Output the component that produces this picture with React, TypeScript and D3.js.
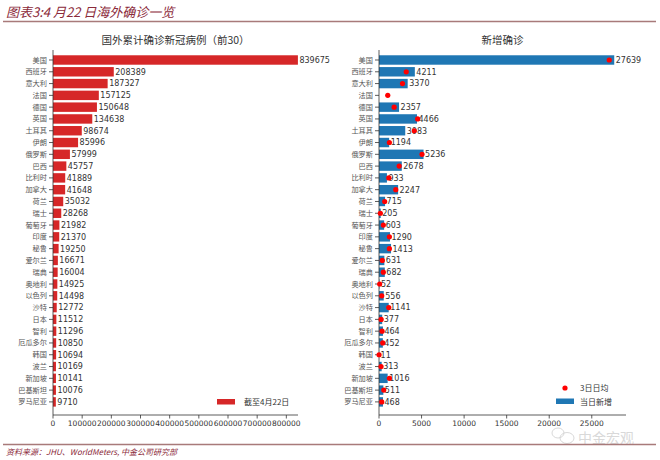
import React from 'react';
import * as d3 from 'd3';

// 国家（按累计确诊排序，前30）
const countries = [
  '美国', '西班牙', '意大利', '法国', '德国', '英国', '土耳其', '伊朗', '俄罗斯', '巴西',
  '比利时', '加拿大', '荷兰', '瑞士', '葡萄牙', '印度', '秘鲁', '爱尔兰', '瑞典', '奥地利',
  '以色列', '沙特', '日本', '智利', '厄瓜多尔', '韩国', '波兰', '新加坡', '巴基斯坦', '罗马尼亚'
];

// 累计确诊（截至4月22日）
const totalCases = [
  839675, 208389, 187327, 157125, 150648, 134638, 98674, 85996, 57999, 45757,
  41889, 41648, 35032, 28268, 21982, 21370, 19250, 16671, 16004, 14925,
  14498, 12772, 11512, 11296, 10850, 10694, 10169, 10141, 10076, 9710
];

// 当日新增（法国无数据）
const dailyNew: (number | null)[] = [
  27639, 4211, 3370, null, 2357, 4466, 3083, 1194, 5236, 2678,
  933, 2247, 715, 205, 603, 1290, 1413, 631, 682, 52,
  556, 1141, 377, 464, 452, 11, 313, 1016, 511, 468
];

// 3日日均（估读）
const avg3d = [
  27050, 3200, 2760, 1030, 1780, 4540, 4150, 1220, 5050, 2370,
  1150, 1970, 670, 160, 510, 1220, 1220, 390, 510, 80,
  320, 1150, 250, 360, 440, 10, 240, 1220, 560, 320
];

const CJK = '"Noto Sans CJK SC", sans-serif';
const NUM = '"DejaVu Sans", sans-serif';
const RED = '#d62728';
const BLUE = '#1f77b4';
const DARK = '#8b2a3a';

const App = () => {
  const y = d3.scaleBand<string>()
    .domain(countries)
    .range([54.1, 407.8])
    .paddingInner(0.2)
    .paddingOuter(0.1);

  const xL = d3.scaleLinear().domain([0, 840000]).range([53, 298]);
  const xR = d3.scaleLinear().domain([0, 29021]).range([379, 626]);

  const axisTop = 50;
  const axisBottom = 415;

  const panel = (
    x: d3.ScaleLinear<number, number>,
    values: (number | null)[],
    color: string,
    title: string,
    nTicks: number
  ) => {
    const x0 = x.range()[0];
    const x1 = x.range()[1];
    return (
      <g>
        <text x={(x0 + x1) / 2} y={44} textAnchor="middle" fontFamily={CJK} fontSize={10.5} fill="#333">
          {title}
        </text>
        {countries.map((c, i) => {
          const v = values[i];
          const yc = (y(c) as number) + y.bandwidth() / 2;
          return (
            <g key={c}>
              <line x1={x0 - 4} x2={x0} y1={yc} y2={yc} stroke="#333" strokeWidth={0.8} />
              <text x={x0 - 6} y={yc} dy="0.35em" textAnchor="end" fontFamily={CJK} fontSize={7.2} fill="#555">
                {c}
              </text>
              {v != null && (
                <>
                  <rect
                    x={x0}
                    y={y(c)}
                    width={x(v) - x0}
                    height={y.bandwidth()}
                    fill={color}
                  />
                  <text x={x(v) + 1.5} y={yc} dy="0.36em" fontFamily={NUM} fontSize={8} fill="#333">
                    {v}
                  </text>
                </>
              )}
            </g>
          );
        })}
        <line x1={x0} x2={x0} y1={axisTop} y2={axisBottom} stroke="#333" strokeWidth={0.8} />
        <line x1={x0} x2={x1} y1={axisBottom} y2={axisBottom} stroke="#333" strokeWidth={0.8} />
        {x.ticks(nTicks).map(t => (
          <g key={t}>
            <line x1={x(t)} x2={x(t)} y1={axisBottom} y2={axisBottom + 3.5} stroke="#333" strokeWidth={0.8} />
            <text x={x(t)} y={axisBottom + 11} textAnchor="middle" fontFamily={NUM} fontSize={7.5} fill="#333">
              {t}
            </text>
          </g>
        ))}
      </g>
    );
  };

  return (
    <svg width={660} height={460} style={{ position: 'absolute', left: 0, top: 0, background: '#fff' }}>
      {/* 标题 */}
      <text x={6} y={17} fontFamily={CJK} fontSize={13} fontStyle="italic" fill={DARK} style={{ whiteSpace: 'pre' }}>
        图表3:4 月22 日海外确诊一览
      </text>
      <line x1={3} x2={656} y1={21.5} y2={21.5} stroke="#a87a7a" strokeWidth={1.5} />

      {panel(xL, totalCases, RED, '国外累计确诊新冠病例（前30）', 10)}
      {panel(xR, dailyNew, BLUE, '新增确诊', 6)}

      {/* 3日日均 */}
      {countries.map((c, i) => (
        <circle
          key={c}
          cx={xR(avg3d[i])}
          cy={(y(c) as number) + y.bandwidth() / 2}
          r={2.6}
          fill="#ff0000"
        />
      ))}

      {/* 图例 */}
      <rect x={217} y={399} width={18} height={5.5} fill={RED} />
      <text x={244} y={402} dy="0.35em" fontFamily={CJK} fontSize={8} fill="#333">截至4月22日</text>

      <circle cx={565} cy={388} r={2.6} fill="#ff0000" />
      <text x={580} y={388} dy="0.35em" fontFamily={CJK} fontSize={8} fill="#333">3日日均</text>
      <rect x={556} y={398.5} width={18} height={5.5} fill={BLUE} />
      <text x={580} y={402} dy="0.35em" fontFamily={CJK} fontSize={8} fill="#333">当日新增</text>

      {/* 水印 */}
      <g opacity={0.55}>
        <ellipse cx={558} cy={433} rx={6} ry={5} fill="none" stroke="#aaa" strokeWidth={0.8} />
        <ellipse cx={567} cy={438} rx={7} ry={5.5} fill="none" stroke="#aaa" strokeWidth={0.8} />
        <text x={578} y={443} fontFamily={CJK} fontSize={14} fill="#bbb">中金宏观</text>
      </g>

      {/* 底部 */}
      <line x1={3} x2={656} y1={444.5} y2={444.5} stroke="#a87a7a" strokeWidth={1.5} />
      <text x={6} y={455} fontFamily={CJK} fontSize={8} fontStyle="italic" fill={DARK}>
        资料来源：JHU、WorldMeters, 中金公司研究部
      </text>
    </svg>
  );
};

export default App;
